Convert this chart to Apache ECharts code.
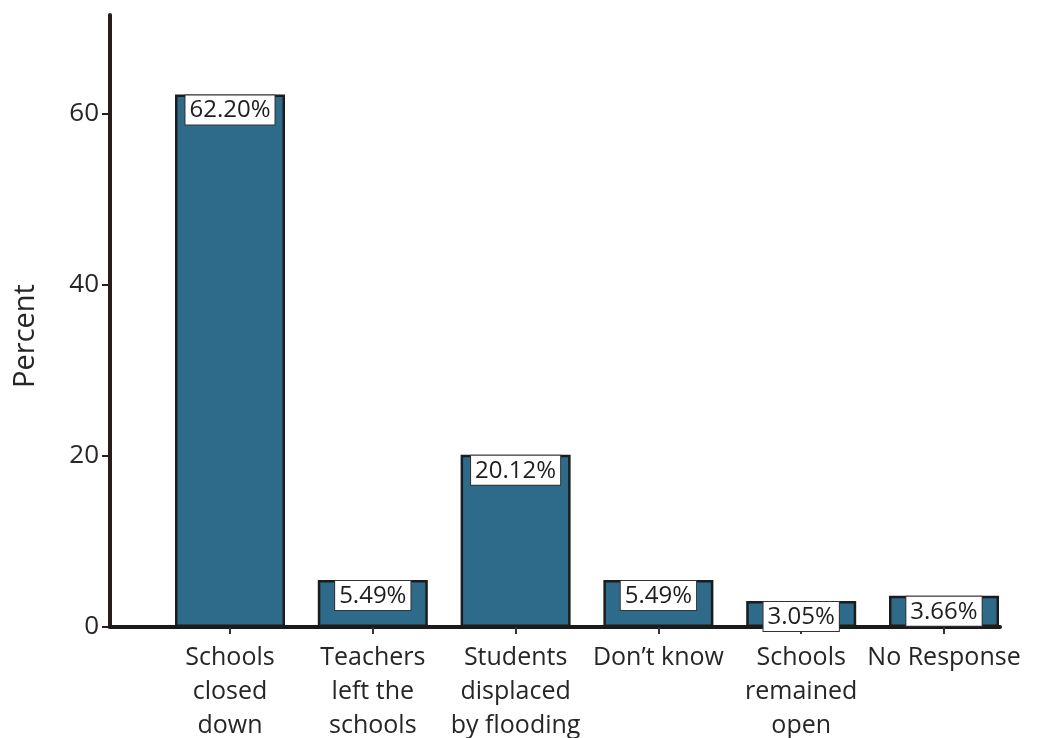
<!DOCTYPE html>
<html>
<head>
<meta charset="utf-8">
<title>Reasons schools were affected</title>
<script src="https://cdn.jsdelivr.net/npm/echarts@6/dist/echarts.min.js"></script>
<style>
  html, body { margin: 0; padding: 0; background: #ffffff; }
  #chart { width: 1039px; height: 738px; }
</style>
</head>
<body>
<div id="chart"></div>
<script>
// Survey responses, percent of respondents
const categories = [
  'Schools\nclosed\ndown',
  'Teachers\nleft the\nschools',
  'Students\ndisplaced\nby flooding',
  'Don\u2019t know',
  'Schools\nremained\nopen',
  'No Response'
];
const percentValues = [62.20, 5.49, 20.12, 5.49, 3.05, 3.66];
const yTickValues = [0, 20, 40, 60];

const FONT = '"Open Sans", Lato, sans-serif';
const TEXT = '#262626';
const chart = echarts.init(document.getElementById('chart'));

chart.setOption({
  animation: false,
  backgroundColor: '#ffffff',
  grid: [
    { left: 158.6, right: 23.6, top: 15, bottom: 111, containLabel: false, outerBoundsMode: 'none' },
    // baseline running from the y axis to the last bar
    { left: 110, right: 39, top: 15, bottom: 111, containLabel: false, outerBoundsMode: 'none' }
  ],
  xAxis: [
    {
      type: 'category',
      gridIndex: 0,
      data: categories,
      axisLine: { show: false },
      axisTick: { show: true, alignWithLabel: true, length: 7, lineStyle: { color: '#333', width: 2 } },
      axisLabel: {
        color: TEXT, fontFamily: FONT, fontSize: 25, lineHeight: 34,
        margin: 14, interval: 0
      }
    },
    {
      type: 'value',
      gridIndex: 1,
      min: 0, max: 1,
      axisLine: { show: true, onZero: false, lineStyle: { color: '#1a1a1a', width: 4 } },
      axisTick: { show: false },
      axisLabel: { show: false },
      splitLine: { show: false }
    }
  ],
  yAxis: [
    {
      type: 'value',
      gridIndex: 0,
      min: 0,
      max: 71.5,
      offset: 48.6,
      name: 'Percent',
      nameLocation: 'middle',
      nameGap: 70,
      nameTextStyle: { color: TEXT, fontFamily: FONT, fontSize: 29, padding: [0, 30, 0, 0] },
      axisLine: { show: true, lineStyle: { color: '#2a1c1c', width: 4 } },
      axisTick: { show: true, length: 8, customValues: yTickValues, lineStyle: { color: '#2a1c1c', width: 2 } },
      axisLabel: { customValues: yTickValues, color: TEXT, fontFamily: FONT, fontSize: 26, margin: 11 },
      splitLine: { show: false }
    },
    {
      type: 'value',
      gridIndex: 1,
      show: false
    }
  ],
  series: [
    {
      type: 'bar',
      xAxisIndex: 0,
      yAxisIndex: 0,
      data: percentValues,
      barWidth: 110,
      itemStyle: { color: '#2e6a89', borderColor: '#1c1c1c', borderWidth: 2.5 },
      label: {
        show: true,
        position: 'insideTop',
        distance: 1,
        formatter: p => p.value.toFixed(2) + '%',
        color: '#1e1e1e',
        fontFamily: FONT,
        fontSize: 24,
        lineHeight: 26,
        backgroundColor: '#ffffff',
        borderColor: '#333',
        borderWidth: 1,
        padding: [2, 4, 1, 4]
      }
    }
  ]
});
</script>
</body>
</html>
